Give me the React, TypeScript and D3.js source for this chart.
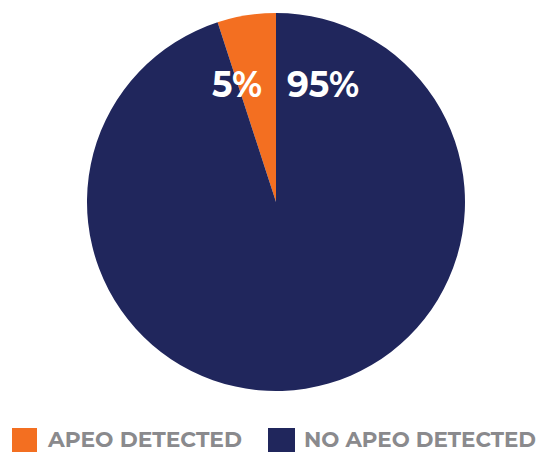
import React from "react";
import * as d3 from "d3";

const categories = ["APEO DETECTED", "NO APEO DETECTED"];
const values = [5, 95];
const labels = ["5%", "95%"];
const colors = ["#f36f21", "#20265c"];

export default function App() {
  const W = 541, H = 452;
  const cx = 276, cy = 202, r = 189;
  const pie = d3.pie<number>().sort(null).startAngle(-2 * Math.PI * values[0] / 100).endAngle(2 * Math.PI - 2 * Math.PI * values[0] / 100);
  const arcs = pie(values);
  const arc = d3.arc<d3.PieArcDatum<number>>().innerRadius(0).outerRadius(r);
  const font = "'Montserrat','Lato','Open Sans',sans-serif";
  return (
    <svg width={W} height={H} style={{ position: "absolute", left: 0, top: 0 }}>
      <g transform={`translate(${cx},${cy})`}>
        {arcs.map((a, i) => (
          <path key={i} d={arc(a) || ""} fill={colors[i]} />
        ))}
        <text x={-14} y={-105} textAnchor="end" fill="#fff" fontFamily={font} fontWeight={700} fontSize={36} textLength={50} lengthAdjust="spacingAndGlyphs">{labels[0]}</text>
        <text x={11} y={-105} textAnchor="start" fill="#fff" fontFamily={font} fontWeight={700} fontSize={36} textLength={72} lengthAdjust="spacingAndGlyphs">{labels[1]}</text>
      </g>
      <g>
        <rect x={12} y={428} width={25} height={24} fill={colors[0]} />
        <text x={48} y={447} fill="#8a8a8d" fontFamily={font} fontWeight={700} fontSize={21} textLength={194} lengthAdjust="spacingAndGlyphs">{categories[0]}</text>
        <rect x={268} y={428} width={27} height={24} fill={colors[1]} />
        <text x={304} y={447} fill="#8a8a8d" fontFamily={font} fontWeight={700} fontSize={21} textLength={232} lengthAdjust="spacingAndGlyphs">{categories[1]}</text>
      </g>
    </svg>
  );
}
